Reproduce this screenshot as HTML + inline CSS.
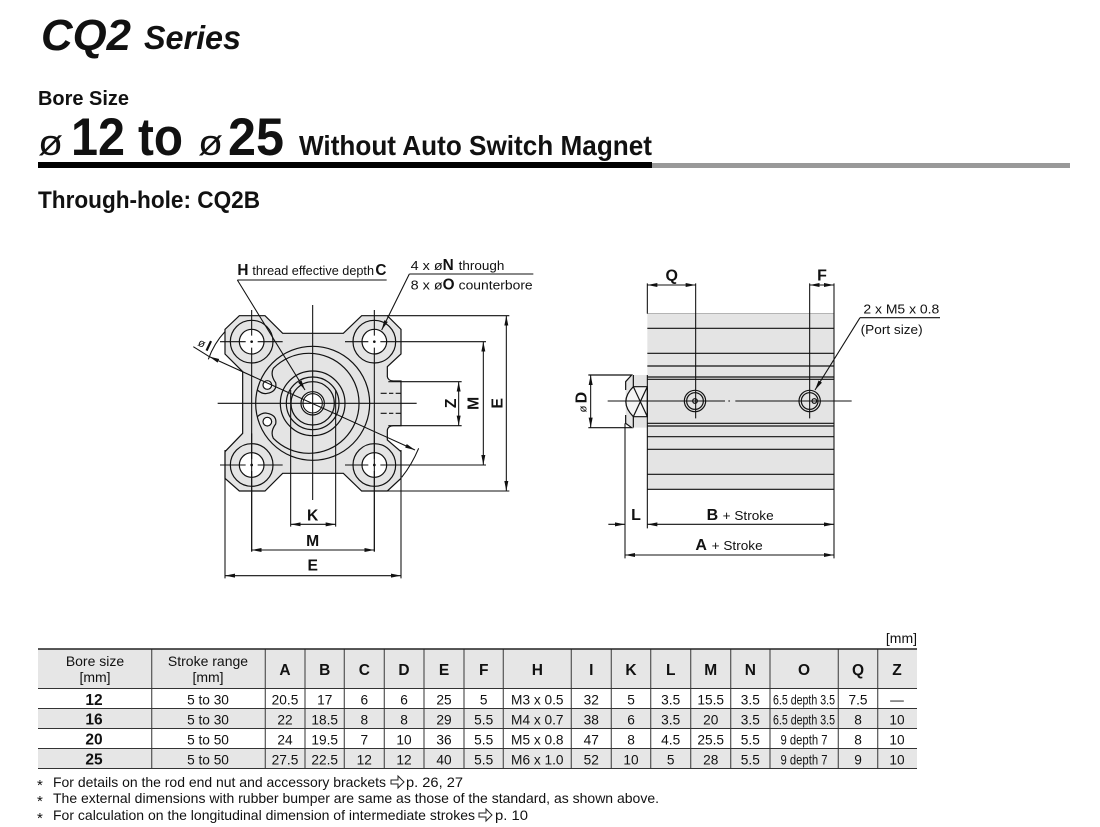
<!DOCTYPE html>
<html><head><meta charset="utf-8"><style>
html,body{margin:0;padding:0;background:#fff}
svg{display:block}
text{font-family:"Liberation Sans",sans-serif;fill:#111}
.b{font-weight:bold}
.l{fill:none;stroke:#111;stroke-width:3.6}
.t{fill:none;stroke:#111;stroke-width:3.2}
</style></head><body>
<svg width="1100" height="827" viewBox="0 0 1100 827" xmlns="http://www.w3.org/2000/svg">
<defs>
<marker id="a" markerUnits="userSpaceOnUse" markerWidth="32" markerHeight="16" refX="30" refY="8" orient="auto-start-reverse"><path d="M0,2 L30,8 L0,14Z" fill="#111"/></marker>
</defs>
<rect width="1100" height="827" fill="#fff"/>

<!-- Heading -->
<text x="41" y="50" class="b" font-style="italic" font-size="44" textLength="90" lengthAdjust="spacingAndGlyphs">CQ2</text>
<text x="144" y="49" class="b" font-style="italic" font-size="33" textLength="97" lengthAdjust="spacingAndGlyphs">Series</text>
<text x="38" y="105" class="b" font-size="20" textLength="91" lengthAdjust="spacingAndGlyphs">Bore Size</text>
<text x="38" y="155" font-size="36" textLength="25" lengthAdjust="spacingAndGlyphs">ø</text>
<text x="71" y="155" class="b" font-size="53" textLength="54" lengthAdjust="spacingAndGlyphs">12</text>
<text x="138" y="155" class="b" font-size="53" textLength="45" lengthAdjust="spacingAndGlyphs">to</text>
<text x="198" y="155" font-size="36" textLength="25" lengthAdjust="spacingAndGlyphs">ø</text>
<text x="228" y="155" class="b" font-size="53" textLength="56" lengthAdjust="spacingAndGlyphs">25</text>
<text x="299" y="155" class="b" font-size="28" textLength="353" lengthAdjust="spacingAndGlyphs">Without Auto Switch Magnet</text>
<rect x="652" y="163" width="418" height="5" fill="#999"/>
<rect x="38" y="162" width="614" height="6" fill="#000"/>
<text x="38" y="208" class="b" font-size="24" textLength="222" lengthAdjust="spacingAndGlyphs">Through-hole: CQ2B</text>

<!-- Front view -->
<g transform="translate(180,250) scale(.33333)">
<path d="M178,197 L255,197 L308,250 L490,250 L545,197 L622,197 L663,238 L663,312 L622,350 L622,380 Q624,392 640,393 L663,393 L663,527 L640,527 Q624,528 622,540 L622,570 L663,605 L663,685 L622,723 L545,723 L490,670 L308,670 L255,723 L178,723 L135,685 L135,605 L188,550 L188,365 L135,312 L135,238Z" class="l" style="fill:#e4e4e4"/>
<g class="l">
<circle cx="215" cy="275" r="64"/><circle cx="583" cy="275" r="64"/><circle cx="215" cy="645" r="64"/><circle cx="583" cy="645" r="64"/>
</g>
<g fill="#fff" stroke="#111" stroke-width="3.6">
<circle cx="215" cy="275" r="37"/><circle cx="583" cy="275" r="37"/><circle cx="215" cy="645" r="37"/><circle cx="583" cy="645" r="37"/>
<circle cx="262" cy="405" r="13"/><circle cx="262" cy="515" r="13"/>
</g>
<g class="l">
<circle cx="398" cy="460" r="171"/>
<path d="M232,420 Q248,434 262,430 Q292,424 287,398 Q270,375 280,355 A150,150 0 1 1 280,565 Q270,545 287,522 Q292,496 262,490 Q248,486 232,500"/>
<circle cx="398" cy="460" r="97"/><circle cx="398" cy="460" r="79"/><circle cx="398" cy="460" r="65"/>
</g>
<circle cx="398" cy="460" r="35" fill="#fff" stroke="#111" stroke-width="3.6"/>
<circle cx="398" cy="460" r="29" fill="none" stroke="#111" stroke-width="3.2"/>
<g fill="#111"><circle cx="215" cy="275" r="4"/><circle cx="583" cy="275" r="4"/><circle cx="215" cy="645" r="4"/><circle cx="583" cy="645" r="4"/></g>
<g class="t">
<path d="M113,460H710M398,165V750"/>
<path d="M120,275H197M233,275H308M215,180V257M215,293V905"/>
<path d="M495,275H565M601,275H918M583,180V257M583,293V905"/>
<path d="M120,645H197M233,645H308M495,645H565M601,645H918"/>
<path d="M215,550V627M215,663V905M583,550V627M583,663V905"/>
<path d="M602,430H620M627,430H640M647,430H662M602,490H620M627,490H640M647,490H662"/>
<path d="M332,420V830M467,420V830M135,600V985M663,600V985"/>
<path d="M622,197H988M620,723H988M625,395H845M625,527H845"/>
<path d="M172,90H620M172,90L375,420" marker-end="url(#a)"/>
<path d="M688,72H1060M688,72L605,240" marker-end="url(#a)"/>
<path d="M40,290L88,320"/>
<path d="M135,245Q102,280 85,328M716,595Q695,645 665,682"/>
</g>
<path d="M88,320L705,600" class="t" marker-start="url(#a)" marker-end="url(#a)"/>
<g class="t">
<path d="M979,197V723" marker-start="url(#a)" marker-end="url(#a)"/>
<path d="M910,275V645" marker-start="url(#a)" marker-end="url(#a)"/>
<path d="M836,395V527" marker-start="url(#a)" marker-end="url(#a)"/>
<path d="M332,823H467" marker-start="url(#a)" marker-end="url(#a)"/>
<path d="M215,900H583" marker-start="url(#a)" marker-end="url(#a)"/>
<path d="M135,977H663" marker-start="url(#a)" marker-end="url(#a)"/>
</g>
<text x="172" y="75" class="b" font-size="46">H</text>
<text x="217" y="75" font-size="40" textLength="365" lengthAdjust="spacingAndGlyphs">thread effective depth</text>
<text x="586" y="75" class="b" font-size="46">C</text>
<text x="692" y="60" font-size="40" textLength="96" lengthAdjust="spacingAndGlyphs">4 x ø</text>
<text x="788" y="60" class="b" font-size="46">N</text>
<text x="836" y="60" font-size="40" textLength="137" lengthAdjust="spacingAndGlyphs">through</text>
<text x="692" y="119" font-size="40" textLength="96" lengthAdjust="spacingAndGlyphs">8 x ø</text>
<text x="788" y="119" class="b" font-size="46">O</text>
<text x="836" y="119" font-size="40" textLength="222" lengthAdjust="spacingAndGlyphs">counterbore</text>
<g class="b" font-size="47" text-anchor="middle">
<text x="398" y="812">K</text><text x="398" y="888">M</text><text x="398" y="962">E</text>
<text transform="translate(828,460) rotate(-90)">Z</text>
<text transform="translate(896,460) rotate(-90)">M</text>
<text transform="translate(967,460) rotate(-90)">E</text>
</g>
<g transform="translate(72,285) rotate(25)" text-anchor="middle"><text x="-8" y="9" font-size="34">ø</text><text x="14" y="12" class="b" font-size="46">I</text></g>
</g>

<!-- Side view -->
<g transform="translate(570,255) scale(.33333)">
<rect x="232" y="176" width="560" height="527" fill="#e4e4e4"/>
<path d="M185,360H232V518H185L167,505V380Z" fill="#e4e4e4"/>
<path d="M190,395H232V485H190Q145,440 190,395Z" fill="#f4f4f4"/>
<g class="l">
<path d="M55,360H185L167,380V405M55,518H185L167,505V480"/>
<path d="M190,360V395H232V485H190V518M190,395Q145,440 190,485M190,395L232,485M190,485L232,395"/>
<path d="M232,220H792M232,295H792M232,333H792M232,366H792M232,373H792M232,505H792M232,513H792M232,545H792M232,583H792M232,658H792M232,703H792"/>
</g>
<path d="M232,176H792" stroke="#888" stroke-width="2" fill="none"/>
<g class="t">
<path d="M113,438H465M475,438H480M496,438H845"/>
<path d="M232,85V176M232,360V820M165,505V910M792,85V910"/>
<path d="M377,85V490M719,85V490"/>
<path d="M870,188H1110M870,188L735,405" marker-end="url(#a)"/>
<path d="M232,90H377" marker-start="url(#a)" marker-end="url(#a)"/>
<path d="M719,90H792" marker-start="url(#a)" marker-end="url(#a)"/>
<path d="M62,360V518" marker-start="url(#a)" marker-end="url(#a)"/>
<path d="M115,808H165" marker-end="url(#a)"/>
<path d="M232,808H792" marker-start="url(#a)" marker-end="url(#a)"/>
<path d="M165,900H792" marker-start="url(#a)" marker-end="url(#a)"/>
</g>
<g class="l">
<circle cx="375" cy="438" r="32"/><circle cx="375" cy="438" r="25"/><circle cx="375" cy="438" r="7"/>
<circle cx="719" cy="438" r="32"/><circle cx="719" cy="438" r="25"/><circle cx="733" cy="438" r="7"/>
</g>
<g class="b" font-size="48" text-anchor="middle">
<text x="305" y="77">Q</text><text x="756" y="77">F</text><text x="198" y="795">L</text>
</g>
<text x="410" y="795" class="b" font-size="48">B</text>
<text x="458" y="795" font-size="40" textLength="153" lengthAdjust="spacingAndGlyphs">+ Stroke</text>
<text x="376" y="885" class="b" font-size="48">A</text>
<text x="425" y="885" font-size="40" textLength="153" lengthAdjust="spacingAndGlyphs">+ Stroke</text>
<text x="880" y="175" font-size="40" textLength="228" lengthAdjust="spacingAndGlyphs">2 x M5 x 0.8</text>
<text x="872" y="237" font-size="40" textLength="186" lengthAdjust="spacingAndGlyphs">(Port size)</text>
<g transform="translate(50,440) rotate(-90)" text-anchor="middle"><text x="-22" y="0" font-size="34">ø</text><text x="12" y="0" class="b" font-size="48">D</text></g>
</g>

<!-- Table -->
<text x="917" y="643" font-size="14" text-anchor="end">[mm]</text>
<rect x="38" y="649" width="879" height="40" fill="#e6e6e6"/>
<rect x="38" y="708" width="879" height="20" fill="#e6e6e6"/>
<rect x="38" y="748" width="879" height="20" fill="#e6e6e6"/>
<path d="M151.7,649V768.5M265.3,649V768.5M305,649V768.5M344.3,649V768.5M384.3,649V768.5M424,649V768.5M464,649V768.5M503.3,649V768.5M571.3,649V768.5M611.3,649V768.5M650.7,649V768.5M690.7,649V768.5M730.7,649V768.5M770,649V768.5M838.3,649V768.5M877.7,649V768.5" stroke="#555" stroke-width="1.2" fill="none"/>
<path d="M38,649H917" stroke="#222" stroke-width="1.6"/>
<path d="M38,688.5H917M38,708.5H917M38,728.5H917M38,748.5H917M38,768.5H917" stroke="#333" stroke-width="1.1"/>
<g font-size="14" text-anchor="middle">
<text x="95" y="666">Bore size</text><text x="95" y="682">[mm]</text>
<text x="208" y="666">Stroke range</text><text x="208" y="682">[mm]</text>
</g>
<g class="b" font-size="15.5" text-anchor="middle">
<text x="285" y="675">A</text><text x="324.7" y="675">B</text><text x="364.3" y="675">C</text><text x="404" y="675">D</text><text x="444" y="675">E</text><text x="483.7" y="675">F</text><text x="537.3" y="675">H</text><text x="591.3" y="675">I</text><text x="631" y="675">K</text><text x="670.7" y="675">L</text><text x="710.7" y="675">M</text><text x="750.3" y="675">N</text><text x="804" y="675">O</text><text x="858" y="675">Q</text><text x="897" y="675">Z</text>
<text x="94" y="705">12</text><text x="94" y="724.5">16</text><text x="94" y="744.5">20</text><text x="94" y="764.5">25</text>
</g>
<g font-size="13.7" text-anchor="middle">
<g transform="translate(0,704.5)"><text x="208">5 to 30</text><text x="285">20.5</text><text x="324.7">17</text><text x="364.3">6</text><text x="404">6</text><text x="444">25</text><text x="483.7">5</text><text x="537.3">M3 x 0.5</text><text x="591.3">32</text><text x="631">5</text><text x="670.7">3.5</text><text x="710.7">15.5</text><text x="750.3">3.5</text><text x="804" font-size="13.7" textLength="62" lengthAdjust="spacingAndGlyphs">6.5 depth 3.5</text><text x="858">7.5</text><text x="897">—</text></g>
<g transform="translate(0,724.5)"><text x="208">5 to 30</text><text x="285">22</text><text x="324.7">18.5</text><text x="364.3">8</text><text x="404">8</text><text x="444">29</text><text x="483.7">5.5</text><text x="537.3">M4 x 0.7</text><text x="591.3">38</text><text x="631">6</text><text x="670.7">3.5</text><text x="710.7">20</text><text x="750.3">3.5</text><text x="804" font-size="13.7" textLength="62" lengthAdjust="spacingAndGlyphs">6.5 depth 3.5</text><text x="858">8</text><text x="897">10</text></g>
<g transform="translate(0,744.5)"><text x="208">5 to 50</text><text x="285">24</text><text x="324.7">19.5</text><text x="364.3">7</text><text x="404">10</text><text x="444">36</text><text x="483.7">5.5</text><text x="537.3">M5 x 0.8</text><text x="591.3">47</text><text x="631">8</text><text x="670.7">4.5</text><text x="710.7">25.5</text><text x="750.3">5.5</text><text x="804" font-size="13.7" textLength="47" lengthAdjust="spacingAndGlyphs">9 depth 7</text><text x="858">8</text><text x="897">10</text></g>
<g transform="translate(0,764.5)"><text x="208">5 to 50</text><text x="285">27.5</text><text x="324.7">22.5</text><text x="364.3">12</text><text x="404">12</text><text x="444">40</text><text x="483.7">5.5</text><text x="537.3">M6 x 1.0</text><text x="591.3">52</text><text x="631">10</text><text x="670.7">5</text><text x="710.7">28</text><text x="750.3">5.5</text><text x="804" font-size="13.7" textLength="47" lengthAdjust="spacingAndGlyphs">9 depth 7</text><text x="858">9</text><text x="897">10</text></g>
</g>

<!-- Notes -->
<g font-size="14">
<text x="37" y="790" font-size="15">*</text><text x="37" y="806" font-size="15">*</text><text x="37" y="823" font-size="15">*</text>
<text x="53" y="787" textLength="333" lengthAdjust="spacingAndGlyphs">For details on the rod end nut and accessory brackets</text>
<text x="406" y="787" textLength="57" lengthAdjust="spacingAndGlyphs">p. 26, 27</text>
<text x="53" y="803" textLength="606" lengthAdjust="spacingAndGlyphs">The external dimensions with rubber bumper are same as those of the standard, as shown above.</text>
<text x="53" y="820" textLength="422" lengthAdjust="spacingAndGlyphs">For calculation on the longitudinal dimension of intermediate strokes</text>
<text x="495" y="820" textLength="33" lengthAdjust="spacingAndGlyphs">p. 10</text>
</g>
<path d="M391,780H398V776L404,782L398,788V784H391Z M479,813H486V809L492,815L486,821V817H479Z" fill="#fff" stroke="#222" stroke-width="1"/>
</svg>
</body></html>
